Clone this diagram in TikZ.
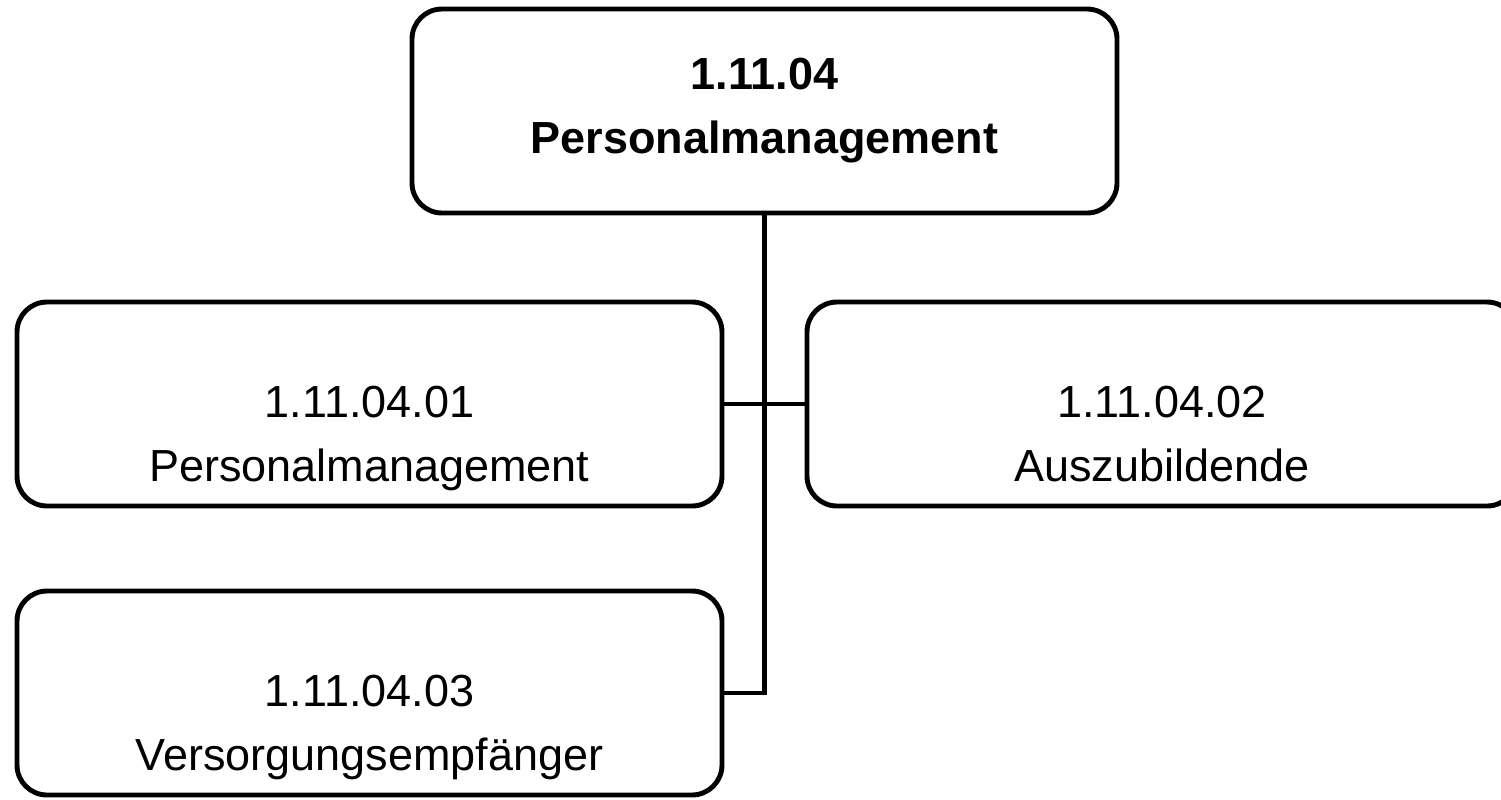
\documentclass[tikz,border=0pt]{standalone}
\usepackage{fontspec}
\setmainfont{Liberation Sans}

\begin{document}
\begin{tikzpicture}[
    unit/.style={draw, line width=1.4pt, rounded corners=0.3cm,
      minimum width=7.05cm, minimum height=2.04cm, inner sep=0pt,
      align=center, font=\fontsize{12.8}{18.2}\selectfont},
    headunit/.style={unit, font=\fontsize{12.8}{18.2}\selectfont\bfseries},
    link/.style={line width=1.4pt}]
  \useasboundingbox (0,0) rectangle (15.01,-7.99);
  % department and its three sub-units
  \node[headunit] (pm) at (7.645,-1.11) {1.11.04\\Personalmanagement};
  \node[unit] (pm01) at (3.695,-4.04) {\rule{0pt}{1cm}1.11.04.01\\Personalmanagement};
  \node[unit, minimum width=7.10cm] (pm02) at (11.62,-4.04) {\rule{0pt}{1cm}1.11.04.02\\Auszubildende\vphantom{g}};
  \node[unit] (pm03) at (3.695,-6.93) {\rule{0pt}{1cm}1.11.04.03\\Versorgungsempfänger};
  \draw[link] (pm.south) |- (pm03.east);
  \draw[link] (pm01.east) -- (pm02.west);
\end{tikzpicture}
\end{document}
